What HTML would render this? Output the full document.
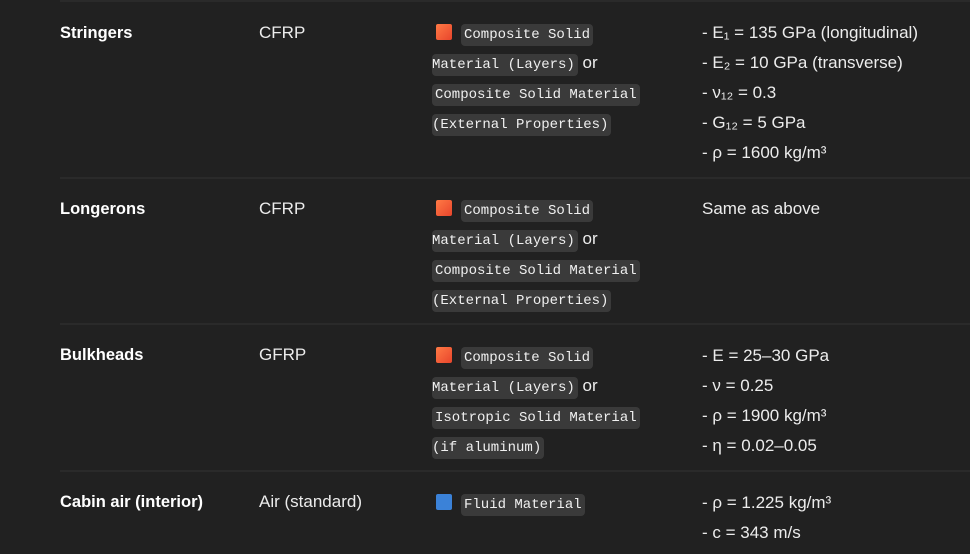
<!DOCTYPE html>
<html><head><meta charset="utf-8"><style>
html,body{margin:0;padding:0;background:#212121;width:970px;height:554px;overflow:hidden;position:relative;font-family:"Liberation Sans","DejaVu Sans",sans-serif;color:#ececec;font-size:17px}
.t{position:absolute;line-height:30px;white-space:nowrap;margin-top:2px}
.b{font-weight:bold;color:#fff;font-size:16.5px}
.c{font-family:"Liberation Mono","DejaVu Sans Mono",monospace;font-size:14px;background:#3a3a3a;border-radius:4px;padding:3px 3px;color:#f0f0f0}
.sq{display:inline-block;width:16px;height:16px;border-radius:2px;vertical-align:-2px;margin-right:9px}
.o{background:linear-gradient(135deg,#ff7a45,#e8452c)}
.bl{background:#3b82d8}
.hr{position:absolute;left:60px;right:0;height:2px;background:#2a2a2a}
</style></head><body>
<div class="hr" style="top:0"></div>
<div class="hr" style="top:177px"></div>
<div class="hr" style="top:323px"></div>
<div class="hr" style="top:470px"></div>

<div class="t b" style="left:60px;top:16px">Stringers</div>
<div class="t" style="left:259px;top:16px">CFRP</div>
<div class="t" style="left:436px;top:16px"><span class="sq o"></span><span class="c">Composite Solid</span></div>
<div class="t" style="left:432px;top:46px"><span class="c" style="padding-left:0">Material (Layers)</span> or</div>
<div class="t" style="left:432px;top:76px"><span class="c">Composite Solid Material</span></div>
<div class="t" style="left:432px;top:106px"><span class="c" style="padding-left:0">(External Properties)</span></div>
<div class="t" style="left:702px;top:16px">- E₁ = 135 GPa (longitudinal)</div>
<div class="t" style="left:702px;top:46px">- E₂ = 10 GPa (transverse)</div>
<div class="t" style="left:702px;top:76px">- ν₁₂ = 0.3</div>
<div class="t" style="left:702px;top:106px">- G₁₂ = 5 GPa</div>
<div class="t" style="left:702px;top:136px">- ρ = 1600 kg/m³</div>

<div class="t b" style="left:60px;top:192px">Longerons</div>
<div class="t" style="left:259px;top:192px">CFRP</div>
<div class="t" style="left:436px;top:192px"><span class="sq o"></span><span class="c">Composite Solid</span></div>
<div class="t" style="left:432px;top:222px"><span class="c" style="padding-left:0">Material (Layers)</span> or</div>
<div class="t" style="left:432px;top:252px"><span class="c">Composite Solid Material</span></div>
<div class="t" style="left:432px;top:282px"><span class="c" style="padding-left:0">(External Properties)</span></div>
<div class="t" style="left:702px;top:192px">Same as above</div>

<div class="t b" style="left:60px;top:338px">Bulkheads</div>
<div class="t" style="left:259px;top:338px">GFRP</div>
<div class="t" style="left:436px;top:339px"><span class="sq o"></span><span class="c">Composite Solid</span></div>
<div class="t" style="left:432px;top:369px"><span class="c" style="padding-left:0">Material (Layers)</span> or</div>
<div class="t" style="left:432px;top:399px"><span class="c">Isotropic Solid Material</span></div>
<div class="t" style="left:432px;top:429px"><span class="c" style="padding-left:0">(if aluminum)</span></div>
<div class="t" style="left:702px;top:339px">- E = 25–30 GPa</div>
<div class="t" style="left:702px;top:369px">- ν = 0.25</div>
<div class="t" style="left:702px;top:399px">- ρ = 1900 kg/m³</div>
<div class="t" style="left:702px;top:429px">- η = 0.02–0.05</div>

<div class="t b" style="left:60px;top:485px">Cabin air (interior)</div>
<div class="t" style="left:259px;top:485px">Air (standard)</div>
<div class="t" style="left:436px;top:486px"><span class="sq bl"></span><span class="c">Fluid Material</span></div>
<div class="t" style="left:702px;top:486px">- ρ = 1.225 kg/m³</div>
<div class="t" style="left:702px;top:516px">- c = 343 m/s</div>
</body></html>
